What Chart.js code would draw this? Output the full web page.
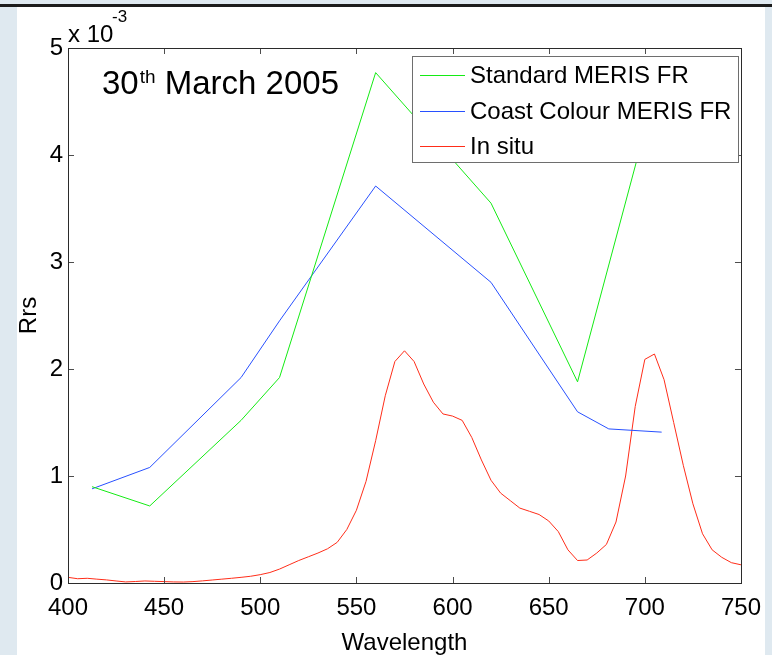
<!DOCTYPE html>
<html>
<head>
<meta charset="utf-8">
<script src="https://cdn.jsdelivr.net/npm/chart.js@4.4.1/dist/chart.umd.min.js"></script>
<style>
  html, body { margin: 0; padding: 0; }
  body { width: 772px; height: 655px; background: #dfe9f0; position: relative; overflow: hidden; }
  #bar { position: absolute; left: 0; top: 4px; width: 772px; height: 3px; background: #1c1c1c; }
  #panel { position: absolute; left: 17px; top: 7px; width: 748px; height: 648px; background: #fff; }
  #chart { position: absolute; left: 0; top: 0; }
</style>
</head>
<body>
<div id="bar"></div>
<div id="panel"></div>
<canvas id="chart" width="772" height="655"></canvas>
<script>
// values in units of 10^-3 sr^-1
const standardWavelengths = [412.5, 442.5, 490, 510, 560, 620, 665, 708.75];
const standardMeris = [0.90, 0.72, 1.52, 1.92, 4.77, 3.55, 1.88, 4.82];

const coastWavelengths = [412.5, 442.5, 490, 510, 560, 620, 665, 681.25, 708.75];
const coastColour = [0.88, 1.08, 1.92, 2.45, 3.71, 2.81, 1.60, 1.44, 1.41];

const insituWavelengths = [
  400, 405, 410, 415, 420, 425, 430, 435, 440, 445, 450, 455, 460, 465, 470, 475,
  480, 485, 490, 495, 500, 505, 510, 515, 520, 525, 530, 535, 540, 545, 550, 555,
  560, 565, 570, 575, 580, 585, 590, 595, 600, 605, 610, 615, 620, 625, 630, 635,
  640, 645, 650, 655, 660, 665, 670, 675, 680, 685, 690, 695, 700, 705, 710, 715,
  720, 725, 730, 735, 740, 745, 750
];
const insitu = [
  0.053, 0.040, 0.044, 0.036, 0.029, 0.019, 0.010, 0.014, 0.019, 0.016, 0.013, 0.010,
  0.009, 0.013, 0.020, 0.028, 0.036, 0.044, 0.053, 0.063, 0.078, 0.098, 0.13, 0.17,
  0.21, 0.245, 0.28, 0.32, 0.38, 0.50, 0.68, 0.95, 1.33, 1.75, 2.07, 2.17, 2.07, 1.86,
  1.69, 1.58, 1.56, 1.52, 1.36, 1.15, 0.96, 0.84, 0.77, 0.70, 0.67, 0.64, 0.58, 0.48,
  0.31, 0.21, 0.215, 0.28, 0.36, 0.57, 1.00, 1.65, 2.09, 2.14, 1.90, 1.50, 1.10, 0.74,
  0.46, 0.31, 0.24, 0.19, 0.17
];

const xTicks = [400, 450, 500, 550, 600, 650, 700, 750];
const yTicks = [0, 1, 2, 3, 4, 5];

const FONT = '"Liberation Sans", Arial, Helvetica, sans-serif';

function pairs(xs, ys) {
  return xs.map((x, i) => ({ x: x, y: ys[i] }));
}

// MATLAB style box, inward ticks, legend and annotations
const matlabPlugin = {
  id: 'matlabAxes',
  afterDatasetsDraw(chart) {
    const { ctx, chartArea: a, scales } = chart;
    const tl = 6;
    ctx.save();

    // inward ticks on all four sides
    ctx.strokeStyle = '#4d4d4d';
    ctx.lineWidth = 1;
    ctx.beginPath();
    xTicks.forEach(v => {
      const px = Math.round(scales.x.getPixelForValue(v)) + 0.5;
      ctx.moveTo(px, a.bottom); ctx.lineTo(px, a.bottom - tl);
      ctx.moveTo(px, a.top); ctx.lineTo(px, a.top + tl);
    });
    yTicks.forEach(v => {
      const py = Math.round(scales.y.getPixelForValue(v)) + 0.5;
      ctx.moveTo(a.left, py); ctx.lineTo(a.left + tl, py);
      ctx.moveTo(a.right, py); ctx.lineTo(a.right - tl, py);
    });
    ctx.stroke();

    // box
    ctx.strokeStyle = '#2b2b2b';
    ctx.strokeRect(Math.round(a.left) + 0.5, Math.round(a.top) + 0.5,
      Math.round(a.right - a.left), Math.round(a.bottom - a.top));

    // legend
    const lx = 412, ly = 56, lw = 326, lh = 106;
    ctx.fillStyle = '#fff';
    ctx.fillRect(lx, ly, lw, lh);
    ctx.strokeStyle = '#6e6e6e';
    ctx.strokeRect(lx + 0.5, ly + 0.5, lw, lh);
    const rows = [75, 111, 146];
    ctx.font = '24px ' + FONT;
    ctx.textBaseline = 'middle';
    ctx.textAlign = 'left';
    chart.data.datasets.forEach((ds, i) => {
      const y = rows[i] + 0.5;
      ctx.strokeStyle = ds.borderColor;
      ctx.beginPath();
      ctx.moveTo(420, y); ctx.lineTo(465, y);
      ctx.stroke();
      ctx.fillStyle = '#000';
      ctx.fillText(ds.label, 470, rows[i] + 1);
    });

    // date annotation
    ctx.textBaseline = 'alphabetic';
    ctx.fillStyle = '#000';
    ctx.font = '33px ' + FONT;
    let x = 102;
    ctx.fillText('30', x, 94);
    x += ctx.measureText('30').width + 1;
    ctx.font = '19px ' + FONT;
    ctx.fillText('th', x, 83);
    x += ctx.measureText('th').width;
    ctx.font = '33px ' + FONT;
    ctx.fillText(' March 2005', x, 94);

    // exponent label
    ctx.font = '24px ' + FONT;
    ctx.fillText('x 10', 68, 42);
    ctx.font = '17px ' + FONT;
    ctx.fillText('-3', 112, 22);

    ctx.restore();
  }
};

new Chart(document.getElementById('chart'), {
  type: 'line',
  data: {
    datasets: [
      {
        label: 'Standard MERIS FR',
        data: pairs(standardWavelengths, standardMeris),
        borderColor: 'rgb(20, 235, 20)',
        borderWidth: 1,
        pointRadius: 0,
        tension: 0
      },
      {
        label: 'Coast Colour MERIS FR',
        data: pairs(coastWavelengths, coastColour),
        borderColor: 'rgb(40, 80, 255)',
        borderWidth: 1,
        pointRadius: 0,
        tension: 0
      },
      {
        label: 'In situ',
        data: pairs(insituWavelengths, insitu),
        borderColor: 'rgb(255, 45, 25)',
        borderWidth: 1,
        pointRadius: 0,
        tension: 0
      }
    ]
  },
  options: {
    responsive: false,
    animation: false,
    events: [],
    layout: { padding: { left: 0, top: 48, right: 26, bottom: 0 } },
    plugins: { legend: { display: false }, tooltip: { enabled: false } },
    scales: {
      x: {
        type: 'linear',
        min: 400,
        max: 750,
        afterBuildTicks: s => { s.ticks = xTicks.map(v => ({ value: v })); },
        afterFit: s => { s.height = 72; },
        ticks: { color: '#000', font: { family: FONT, size: 24 }, padding: 11, maxRotation: 0, autoSkip: false },
        grid: { display: false, drawTicks: false },
        border: { display: false },
        title: { display: true, text: 'Wavelength', color: '#000', font: { family: FONT, size: 24 }, padding: { top: 0, bottom: -3 } }
      },
      y: {
        type: 'linear',
        min: 0,
        max: 5,
        afterBuildTicks: s => { s.ticks = yTicks.map(v => ({ value: v })); },
        afterFit: s => { s.width = 68; },
        ticks: { color: '#000', font: { family: FONT, size: 24 }, padding: 5 },
        grid: { display: false, drawTicks: false },
        border: { display: false },
        title: { display: true, text: 'Rrs', color: '#000', font: { family: FONT, size: 24 }, padding: { top: 15, bottom: 0 } }
      }
    }
  },
  plugins: [matlabPlugin]
});
</script>
</body>
</html>
